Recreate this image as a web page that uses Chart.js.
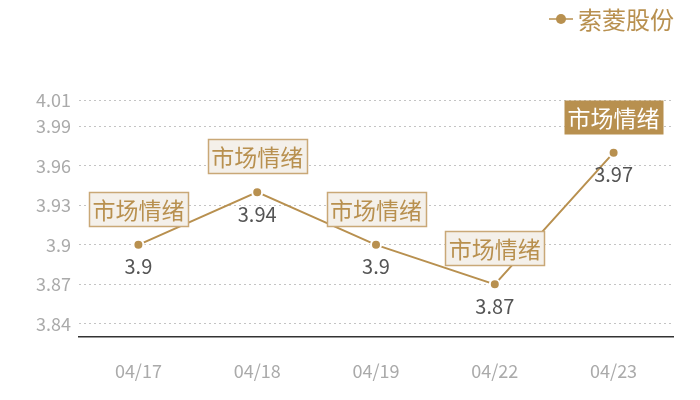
<!DOCTYPE html>
<html><head><meta charset="utf-8">
<script src="https://cdn.jsdelivr.net/npm/chart.js@4/dist/chart.umd.min.js"></script>
<style>html,body{margin:0;padding:0;background:#fff;}#wrap{width:700px;height:400px;}</style>
</head><body><div id="wrap"><canvas id="c" width="700" height="400"></canvas></div>
<script>
const categories = ["04/17","04/18","04/19","04/22","04/23"];
const seriesName = "索菱股份";
const values = [3.9, 3.94, 3.9, 3.87, 3.97];
const yTicks = [3.84, 3.87, 3.9, 3.93, 3.96, 3.99, 4.01];
const annotations = ["市场情绪","市场情绪","市场情绪","市场情绪","市场情绪"];
const highlighted = [false,false,false,false,true];

const GOLD = "#b8904f";
const FONT = "'Noto Sans CJK SC','Noto Sans',sans-serif";

const overlay = {
  id: 'overlay',
  afterDatasetsDraw(chart) {
    const ctx = chart.ctx;
    const meta = chart.getDatasetMeta(0);
    ctx.save();
    meta.data.forEach((pt, i) => {
      const x = pt.x, y = pt.y;
      ctx.font = "20px " + FONT;
      ctx.fillStyle = "#555";
      ctx.textAlign = "center";
      ctx.textBaseline = "middle";
      ctx.fillText(String(values[i]), x, y + 22);
      ctx.font = "23px " + FONT;
      const w = ctx.measureText(annotations[i]).width + 7;
      const h = 34;
      const bx = Math.round(x - w / 2) + 0.5, by = Math.round(y - 19 - h) + 0.5;
      if (highlighted[i]) {
        ctx.fillStyle = GOLD;
        ctx.fillRect(bx, by, w, h);
        ctx.fillStyle = "#fff";
      } else {
        ctx.fillStyle = "#f4f0ea";
        ctx.fillRect(bx, by, w, h);
        ctx.strokeStyle = "#c9a877";
        ctx.lineWidth = 1.5;
        ctx.strokeRect(bx, by, w, h);
        ctx.fillStyle = "#b8904f";
      }
      ctx.fillText(annotations[i], x, by + h / 2 + 1);
    });
    ctx.font = "24px " + FONT;
    ctx.textAlign = "left";
    ctx.textBaseline = "middle";
    const lx = 549, ly = 19;
    ctx.strokeStyle = GOLD; ctx.lineWidth = 1.5;
    ctx.beginPath(); ctx.moveTo(lx, ly); ctx.lineTo(lx + 24, ly); ctx.stroke();
    ctx.fillStyle = GOLD;
    ctx.beginPath(); ctx.arc(lx + 12, ly, 5, 0, Math.PI * 2); ctx.fill();
    ctx.fillText(seriesName, lx + 29, ly + 1);
    ctx.restore();
  }
};

new Chart(document.getElementById('c'), {
  type: 'line',
  data: {
    labels: categories,
    datasets: [{
      label: seriesName,
      data: values,
      borderColor: GOLD,
      backgroundColor: GOLD,
      borderWidth: 2,
      pointRadius: 5,
      pointBorderColor: "#fff",
      pointBorderWidth: 2,
      pointBackgroundColor: GOLD,
      tension: 0
    }]
  },
  options: {
    responsive: false,
    animation: false,
    devicePixelRatio: 1,
    layout: { padding: { top: 100, right: 27, left: 0, bottom: 0 } },
    plugins: { legend: { display: false }, tooltip: { enabled: false } },
    scales: {
      x: {
        offset: true,
        grid: { display: false, drawTicks: false },
        border: { display: true, color: "#333", width: 1.5 },
        ticks: { color: "#aaa", font: { size: 18, family: FONT }, padding: 23 },
        afterFit(s) { s.height = 63; }
      },
      y: {
        min: 3.83, max: 4.01,
        afterBuildTicks(s) { s.ticks = yTicks.map(v => ({ value: v })); },
        grid: { color: "#c4c4c4", drawTicks: false, lineWidth: 1 },
        border: { display: false, dash: [2, 3] },
        ticks: { color: "#aaa", font: { size: 18, family: FONT }, padding: 8, callback: v => String(v) },
        afterFit(s) { s.width = 79; }
      }
    }
  },
  plugins: [overlay]
});
</script>
</body></html>
